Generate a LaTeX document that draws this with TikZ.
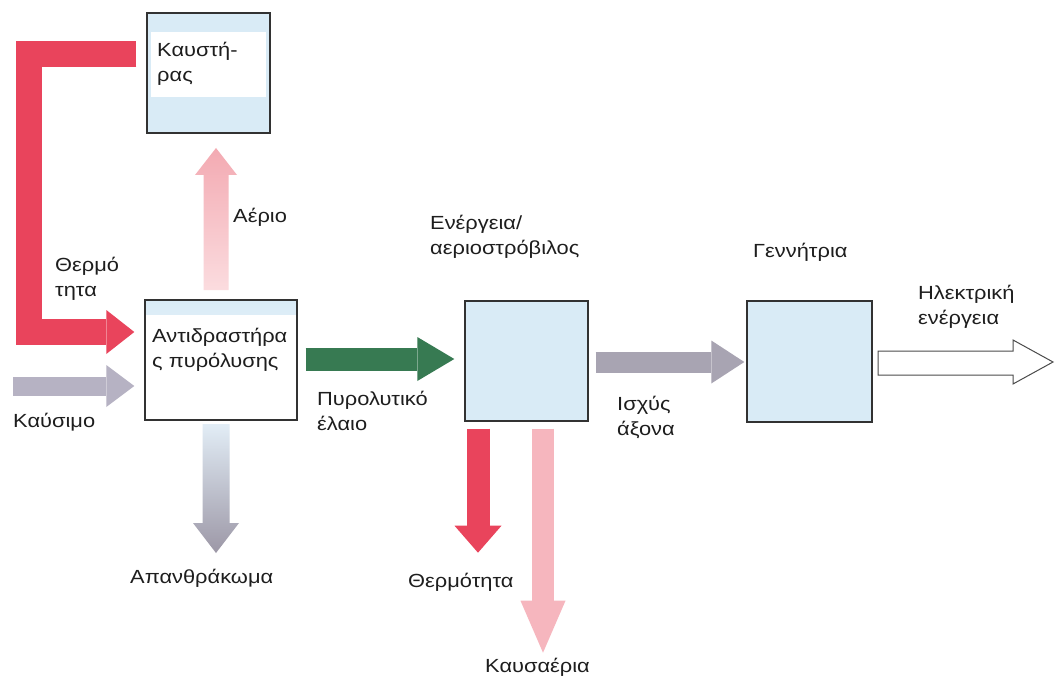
\documentclass[tikz,border=0pt]{standalone}
\usepackage{fontspec}
\setmainfont{Liberation Sans}[FakeStretch=1.15]
\usetikzlibrary{arrows.meta,calc}
\definecolor{heatred}{RGB}{233,68,92}
\definecolor{fuelgray}{RGB}{182,178,195}
\definecolor{oilgreen}{RGB}{55,122,82}
\definecolor{shaftgray}{RGB}{168,164,178}
\definecolor{exhpink}{RGB}{246,182,190}
\definecolor{gaspink}{RGB}{243,170,178}
\definecolor{gaspinklt}{RGB}{251,220,223}
\definecolor{boxblue}{RGB}{217,235,246}
\definecolor{boxline}{RGB}{50,50,50}
\definecolor{txt}{RGB}{30,30,30}
\definecolor{charblue}{RGB}{226,237,246}
\definecolor{chargray}{RGB}{156,151,166}
\begin{document}
\begin{tikzpicture}[x=1pt,y=-1pt,
  blockbox/.style={draw=boxline, line width=1.4pt, fill=boxblue, inner sep=0pt},
  lbl/.style={font=\fontsize{19}{25}\selectfont, text=txt, inner sep=0pt, align=left, anchor=west},
  flow/.style={line width=#1, line join=miter},
  tipw/.style n args={2}{-{Triangle[width=#1pt,length=#2pt,line width=0pt]}}
]
\path[use as bounding box, fill=white] (0,0) rectangle (1055,679);

% boxes
\node[blockbox, minimum width=123pt, minimum height=120pt,
  path picture={\fill[white] ($(path picture bounding box.north west)+(4,19)$) rectangle ($(path picture bounding box.north east)+(-4,84)$);}]
  (burner) at (208.5,73) {};
\node[blockbox, fill=white, minimum width=152pt, minimum height=120pt,
  path picture={\shade[top color=boxblue, bottom color=white] (path picture bounding box.north west) rectangle ($(path picture bounding box.north east)+(0,14)$);}]
  (reactor) at (221,360) {};
\node[blockbox, minimum width=123pt, minimum height=120pt] (turbine) at (526.5,361) {};
\node[blockbox, minimum width=125pt, minimum height=121pt] (gen) at (809.5,361.5) {};

% heat loop from burner to reactor
\coordinate (hs) at ($(burner.west)+(-10,-19)$);
\coordinate (he) at ($(reactor.west)+(-10,-28)$);
\draw[flow=26pt, heatred, tipw={44}{28}] (hs) -- ++(-107,0) |- (he);

% fuel
\coordinate (fs) at (13,386);
\draw[flow=19pt, fuelgray, tipw={42}{28}] (fs) -- ($(reactor.west)+(-10,26)$);

% gas up (gradient)
\shade[top color=gaspink, bottom color=gaspinklt]
  (203.5,290) -- (203.5,175) -- (195,175) -- (216,148) -- (237,175) -- (228.5,175) -- (228.5,290) -- cycle;

% char down (gradient)
\shade[top color=charblue, bottom color=chargray]
  (202.5,424) -- (202.5,523) -- (193,523) -- (216,553) -- (239,523) -- (229.5,523) -- (229.5,424) -- cycle;

% pyrolysis oil
\draw[flow=23pt, oilgreen, tipw={44}{37}] ($(reactor.east)+(8,-1)$) -- ($(turbine.west)+(-10,-2)$);

% heat down from turbine
\draw[flow=23pt, heatred, tipw={47}{27}] ($(turbine.south)+(-48.5,7)$) -- ++(0,124);

% exhaust down
\draw[flow=22pt, exhpink, tipw={45}{52}] ($(turbine.south)+(16.5,7)$) -- ++(0,224);

% shaft power
\draw[flow=21pt, shaftgray, tipw={43}{33}] ($(turbine.east)+(7,1)$) -- ($(gen.west)+(-2,0.5)$);

% electricity (outlined)
\draw[draw=black!70, fill=white, line width=1pt]
  (878,351) -- (1013,351) -- (1013,340) -- (1053,362) -- (1013,384) -- (1013,375) -- (878,375) -- cycle;

% labels
\node[lbl] (tburner) at (157,64) {Καυστή-\\ρας};
\node[lbl] (tgas) at (233,217) {Αέριο};
\node[lbl] (theat1) at (55,278.5) {Θερμό\\τητα};
\node[lbl] (treactor) at (152,349.5) {Αντιδραστήρα\\ς πυρόλυσης};
\node[lbl] (tfuel) at (13,422) {Καύσιμο};
\node[lbl] (tchar) at (130,578) {Απανθράκωμα};
\node[lbl] (toil) at (317,411) {Πυρολυτικό\\έλαιο};
\node[lbl] (tturb) at (430,237) {Ενέργεια/\\αεριοστρόβιλος};
\node[lbl] (theat2) at (408,582) {Θερμότητα};
\node[lbl] (texh) at (485,667) {Καυσαέρια};
\node[lbl] (tshaft) at (617,417) {Ισχύς\\άξονα};
\node[lbl] (tgen) at (753,252) {Γεννήτρια};
\node[lbl] (telec) at (918,307) {Ηλεκτρική\\ενέργεια};
\end{tikzpicture}
\end{document}
